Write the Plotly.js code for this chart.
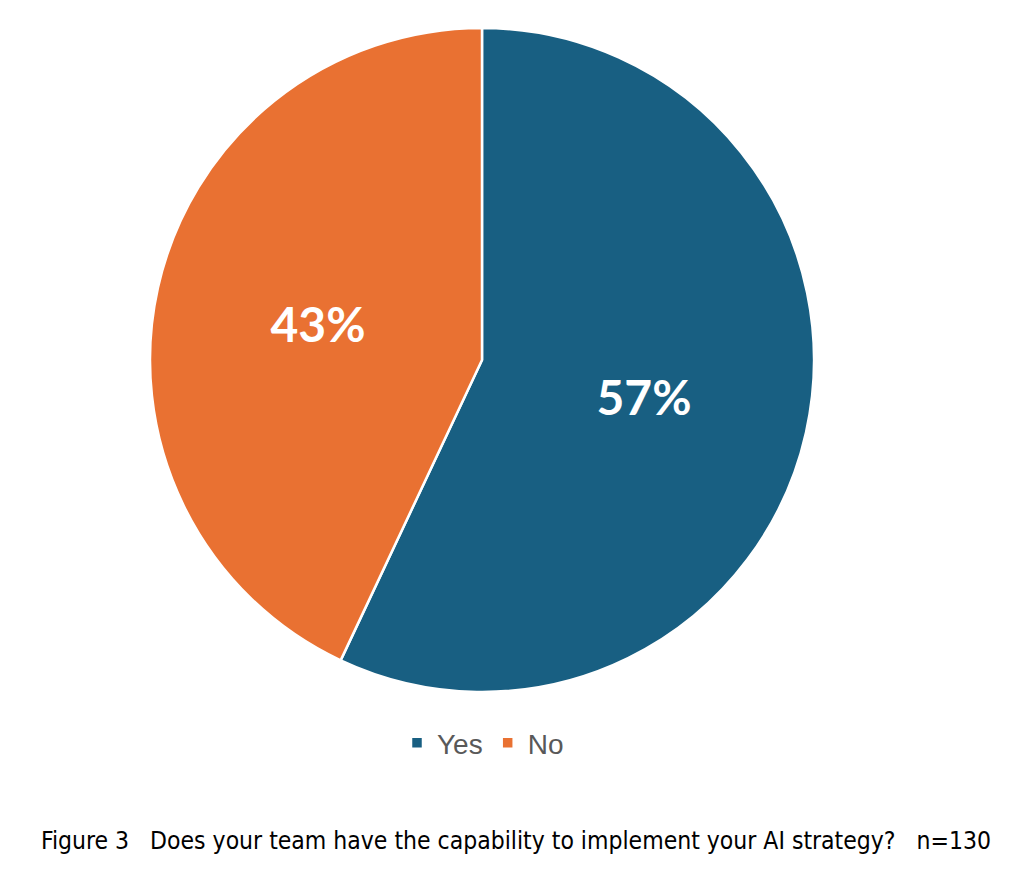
<!DOCTYPE html>
<html><head><meta charset="utf-8">
<script src="https://cdn.plot.ly/plotly-3.0.1.min.js"></script>
<style>html,body{margin:0;padding:0;background:#fff}#chart{width:1020px;height:886px}</style>
</head><body><div id="chart"></div>
<script>
const labels = ["Yes", "No"];
const values = [57, 43];
const colors = ["#185F82", "#E97132"];
const caption = "Figure 3   Does your team have the capability to implement your AI strategy?   n=130";

const data = [{
  type: "pie",
  labels: labels,
  values: values,
  sort: false,
  direction: "clockwise",
  rotation: 0,
  marker: {colors: colors, line: {color: "#ffffff", width: 2.5}},
  textinfo: "percent",
  texttemplate: "%{percent:.0%}",
  textposition: "inside",
  insidetextorientation: "horizontal",
  textfont: {family: "Lato", size: 48, color: "#ffffff", weight: "bold"},
  hoverinfo: "none",
  domain: {x: [(482-332)/1020, (482+332)/1020], y: [1-692/886, 1-28/886]}
}];

const layout = {
  width: 1020, height: 886,
  margin: {l: 0, r: 0, t: 0, b: 0},
  paper_bgcolor: "#ffffff",
  showlegend: true,
  legend: {orientation: "h", x: 483/1020, xanchor: "center", y: 1-743/886, yanchor: "middle",
           font: {family: "Liberation Sans", size: 28, color: "#595959"}, itemwidth: 30, tracegroupgap: 0},
  annotations: [{
    text: caption, xref: "paper", yref: "paper", x: 516/1020, y: 1-840/886,
    xanchor: "center", yanchor: "middle", showarrow: false,
    font: {family: "DejaVu Sans Condensed", size: 24.5, color: "#000000"}
  }]
};
Plotly.newPlot("chart", data, layout, {displayModeBar: false, staticPlot: true});
</script></body></html>
